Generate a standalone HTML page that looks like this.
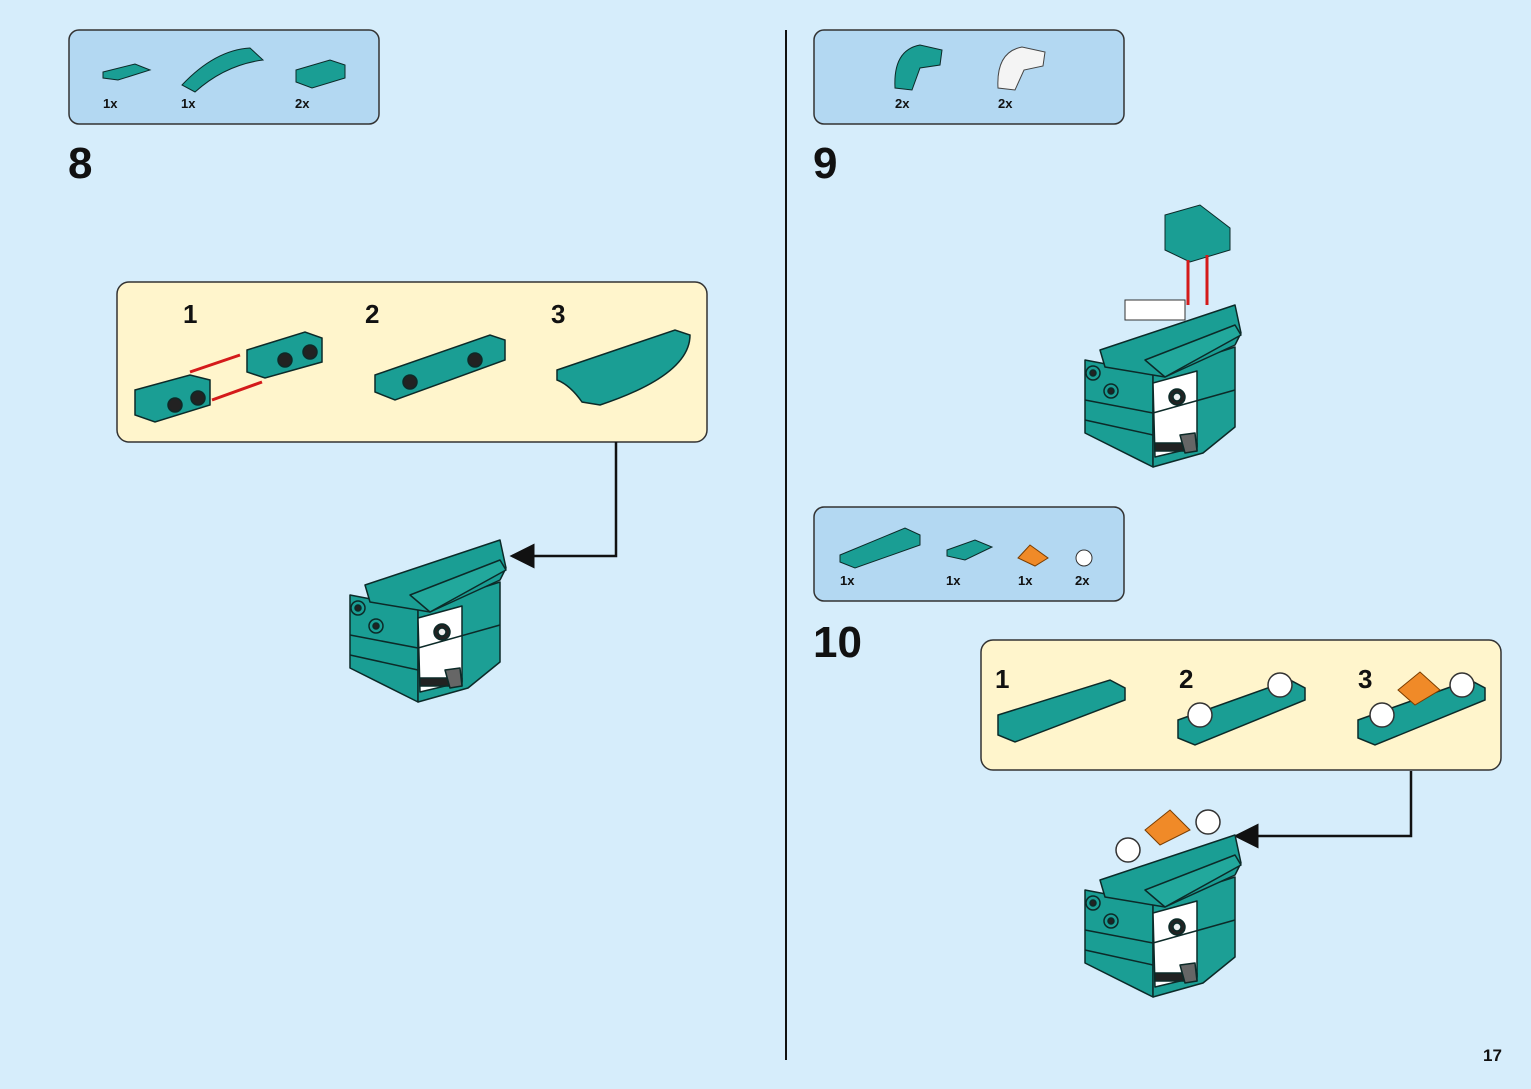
<!DOCTYPE html>
<html><head><meta charset="utf-8"><style>
html,body{margin:0;padding:0;background:#d6edfb;}
svg{display:block}
text{font-family:"Liberation Sans",sans-serif;font-weight:bold;fill:#111}
</style></head><body>
<svg width="1531" height="1089" viewBox="0 0 1531 1089" xmlns="http://www.w3.org/2000/svg">
<defs>
<g id="model" stroke="#0c2a28" stroke-width="1.5" stroke-linejoin="round">
  <polygon points="0,55 68,68 68,162 0,128" fill="#1a9e94"/>
  <polygon points="68,68 150,42 150,122 118,148 68,162" fill="#1c9f95"/>
  <polygon points="68,78 112,66 112,142 70,152" fill="#fff"/>
  <rect x="70" y="138" width="42" height="8" fill="#222"/>
  <polygon points="95,130 110,128 112,146 100,148" fill="#666"/>
  <circle cx="92" cy="92" r="8" fill="#222"/><circle cx="92" cy="92" r="4" fill="#eee"/>
  <polygon points="15,45 150,0 156,28 150,40 80,72 20,62" fill="#1a9e94"/>
  <polygon points="60,55 150,20 156,30 80,72" fill="#22a89c"/>
  <circle cx="8" cy="68" r="7" fill="#1a9e94"/><circle cx="8" cy="68" r="3" fill="#222"/>
  <circle cx="26" cy="86" r="7" fill="#1a9e94"/><circle cx="26" cy="86" r="3" fill="#222"/>
  <line x1="0" y1="95" x2="68" y2="108" /><line x1="68" y1="108" x2="150" y2="85"/>
  <line x1="0" y1="115" x2="68" y2="130"/>
</g>
<marker id="ah" markerWidth="10" markerHeight="10" refX="9" refY="5" orient="auto"><path d="M0,0 L10,5 L0,10 Z" fill="#111"/></marker>
</defs>
<rect width="1531" height="1089" fill="#d6edfb"/>
<line x1="786" y1="30" x2="786" y2="1060" stroke="#111" stroke-width="2"/>

<!-- Step 8 -->
<rect x="69" y="30" width="310" height="94" rx="10" fill="#b3d8f2" stroke="#333" stroke-width="1.5"/>
<polygon points="103,72 135,64 150,70 118,80 103,78" fill="#1a9e94" stroke="#0c2a28"/>
<path d="M182,85 Q215,50 250,48 L263,60 Q225,65 195,92 Z" fill="#1a9e94" stroke="#0c2a28"/>
<polygon points="296,70 330,60 345,65 345,78 312,88 296,82" fill="#1a9e94" stroke="#0c2a28"/>
<text x="103" y="108" font-size="13">1x</text><text x="181" y="108" font-size="13">1x</text><text x="295" y="108" font-size="13">2x</text>
<text x="68" y="178" font-size="44">8</text>
<rect x="117" y="282" width="590" height="160" rx="12" fill="#fff5cc" stroke="#333" stroke-width="1.5"/>
<text x="183" y="323" font-size="26">1</text><text x="365" y="323" font-size="26">2</text><text x="551" y="323" font-size="26">3</text>
<g stroke="#0c2a28" stroke-width="1.5" fill="#1a9e94">
<polygon points="135,390 190,375 210,380 210,405 155,422 135,415"/>
<circle cx="175" cy="405" r="7" fill="#222"/><circle cx="198" cy="398" r="7" fill="#222"/>
<polygon points="247,350 305,332 322,338 322,362 265,378 247,372"/>
<circle cx="285" cy="360" r="7" fill="#222"/><circle cx="310" cy="352" r="7" fill="#222"/>
<polygon points="375,375 490,335 505,340 505,360 395,400 375,392"/>
<circle cx="410" cy="382" r="7" fill="#222"/><circle cx="475" cy="360" r="7" fill="#222"/>
<path d="M557,370 L675,330 L690,335 Q690,375 600,405 L582,402 Q570,385 557,380 Z"/>
</g>
<g stroke="#d41a1a" stroke-width="3"><line x1="190" y1="372" x2="240" y2="355"/><line x1="212" y1="400" x2="262" y2="382"/></g>
<polyline points="616,442 616,556 512,556" fill="none" stroke="#111" stroke-width="2.5" marker-end="url(#ah)"/>
<use href="#model" x="350" y="540"/>

<!-- Step 9 -->
<rect x="814" y="30" width="310" height="94" rx="10" fill="#b3d8f2" stroke="#333" stroke-width="1.5"/>
<path d="M895,88 Q893,50 920,45 L942,50 L940,65 L920,68 L912,90 Z" fill="#1a9e94" stroke="#0c2a28"/>
<path d="M998,88 Q996,52 1022,47 L1045,52 L1043,66 L1024,70 L1015,90 Z" fill="#f4f4f4" stroke="#444"/>
<text x="895" y="108" font-size="13">2x</text><text x="998" y="108" font-size="13">2x</text>
<text x="813" y="178" font-size="44">9</text>
<use href="#model" x="1085" y="305"/>
<rect x="1125" y="300" width="60" height="20" fill="#fff" stroke="#333"/>
<polygon points="1165,215 1200,205 1230,228 1230,250 1190,262 1165,250" fill="#1a9e94" stroke="#0c2a28"/>
<g stroke="#d41a1a" stroke-width="3"><line x1="1188" y1="260" x2="1188" y2="305"/><line x1="1207" y1="255" x2="1207" y2="305"/></g>

<!-- Step 10 -->
<rect x="814" y="507" width="310" height="94" rx="10" fill="#b3d8f2" stroke="#333" stroke-width="1.5"/>
<polygon points="840,555 905,528 920,535 920,545 855,568 840,562" fill="#1a9e94" stroke="#0c2a28"/>
<polygon points="947,550 975,540 992,547 965,560 947,556" fill="#1a9e94" stroke="#0c2a28"/>
<polygon points="1018,558 1030,545 1048,558 1035,566" fill="#f08a28" stroke="#7a3d00"/>
<circle cx="1084" cy="558" r="8" fill="#fff" stroke="#333"/>
<text x="840" y="585" font-size="13">1x</text><text x="946" y="585" font-size="13">1x</text><text x="1018" y="585" font-size="13">1x</text><text x="1075" y="585" font-size="13">2x</text>
<text x="813" y="657" font-size="44">10</text>
<rect x="981" y="640" width="520" height="130" rx="12" fill="#fff5cc" stroke="#333" stroke-width="1.5"/>
<text x="995" y="688" font-size="26">1</text><text x="1179" y="688" font-size="26">2</text><text x="1358" y="688" font-size="26">3</text>
<g stroke="#0c2a28" stroke-width="1.5" fill="#1a9e94">
<polygon points="998,715 1110,680 1125,688 1125,700 1015,742 998,735"/>
<polygon points="1178,720 1290,680 1305,688 1305,700 1195,745 1178,738"/>
<polygon points="1358,720 1470,680 1485,688 1485,700 1375,745 1358,738"/>
</g>
<g fill="#fff" stroke="#333" stroke-width="1.5">
<circle cx="1200" cy="715" r="12"/><circle cx="1280" cy="685" r="12"/>
<circle cx="1382" cy="715" r="12"/><circle cx="1462" cy="685" r="12"/>
</g>
<polygon points="1398,690 1420,672 1440,690 1415,705" fill="#f08a28" stroke="#7a3d00"/>
<polyline points="1411,771 1411,836 1236,836" fill="none" stroke="#111" stroke-width="2.5" marker-end="url(#ah)"/>
<use href="#model" x="1085" y="835"/>
<g fill="#fff" stroke="#333" stroke-width="1.5"><circle cx="1128" cy="850" r="12"/><circle cx="1208" cy="822" r="12"/></g>
<polygon points="1145,830 1170,810 1190,830 1160,845" fill="#f08a28" stroke="#7a3d00"/>

<text x="1483" y="1061" font-size="17">17</text>
</svg>
</body></html>
